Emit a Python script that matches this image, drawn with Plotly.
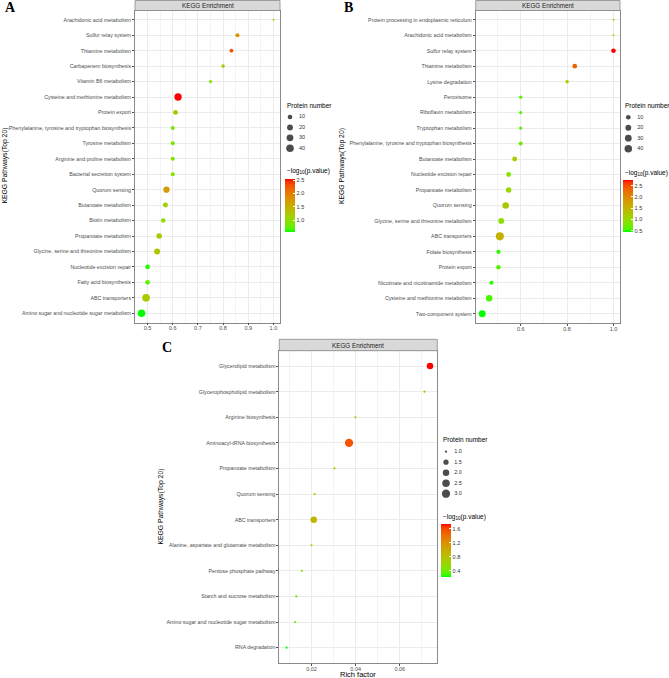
import numpy as np
import plotly.graph_objects as go

W, H = 669, 678

# ---- data -------------------------------------------------------------
A_pathways = [
    "Arachidonic acid metabolism", "Sulfur relay system", "Thiamine metabolism",
    "Carbapenem biosynthesis", "Vitamin B6 metabolism",
    "Cysteine and methionine metabolism", "Protein export",
    "Phenylalanine, tyrosine and tryptophan biosynthesis", "Tyrosine metabolism",
    "Arginine and proline metabolism", "Bacterial secretion system", "Quorum sensing",
    "Butanoate metabolism", "Biotin metabolism", "Propanoate metabolism",
    "Glycine, serine and threonine metabolism", "Nucleotide excision repair",
    "Fatty acid biosynthesis", "ABC transporters",
    "Amino sugar and nucleotide sugar metabolism",
]
A_rich = [1.0, 0.857, 0.833, 0.80, 0.75, 0.621, 0.611, 0.60, 0.60, 0.60,
          0.60, 0.575, 0.571, 0.562, 0.546, 0.538, 0.50, 0.50, 0.494, 0.476]
A_count = [1, 6, 5, 4, 3, 36, 11, 6, 6, 6, 6, 23, 12, 9, 17, 21, 10, 10, 41, 40]
A_logp = [1.1, 1.8, 2.3, 1.2, 0.9, 2.54, 1.3, 0.85, 0.85, 0.85,
          0.9, 1.7, 1.1, 1.0, 1.2, 1.25, 0.62, 0.75, 1.2, 0.56]

B_pathways = [
    "Protein processing in endoplasmic reticulum", "Arachidonic acid metabolism",
    "Sulfur relay system", "Thiamine metabolism", "Lysine degradation", "Peroxisome",
    "Riboflavin metabolism", "Tryptophan metabolism",
    "Phenylalanine, tyrosine and tryptophan biosynthesis", "Butanoate metabolism",
    "Nucleotide excision repair", "Propanoate metabolism", "Quorum sensing",
    "Glycine, serine and threonine metabolism", "ABC transporters",
    "Folate biosynthesis", "Protein export", "Nicotinate and nicotinamide metabolism",
    "Cysteine and methionine metabolism", "Two-component system",
]
B_rich = [1.0, 1.0, 1.0, 0.833, 0.80, 0.60, 0.60, 0.60, 0.60, 0.574,
          0.548, 0.548, 0.535, 0.516, 0.51, 0.504, 0.504, 0.474, 0.464, 0.434]
B_count = [1, 1, 10, 10, 4, 3, 3, 3, 6, 12, 11, 17, 28, 20, 48, 8, 9, 7, 27, 32]
B_logp = [1.0, 1.0, 2.75, 2.35, 1.1, 0.6, 0.6, 0.6, 0.7, 1.15,
          0.85, 1.0, 1.25, 0.9, 1.5, 0.5, 0.6, 0.5, 0.55, 0.44]

C_pathways = [
    "Glycerolipid metabolism", "Glycerophospholipid metabolism",
    "Arginine biosynthesis", "Aminoacyl-tRNA biosynthesis", "Propanoate metabolism",
    "Quorum sensing", "ABC transporters",
    "Alanine, aspartate and glutamate metabolism", "Pentose phosphate pathway",
    "Starch and sucrose metabolism", "Amino sugar and nucleotide sugar metabolism",
    "RNA degradation",
]
C_rich = [0.0737, 0.0712, 0.0399, 0.037, 0.0304, 0.0214, 0.021, 0.020,
          0.0156, 0.0131, 0.0126, 0.0087]
C_count = [2, 1, 1, 3, 1, 1, 2, 1, 1, 1, 1, 1]
C_logp = [1.74, 0.9, 0.8, 1.55, 0.72, 0.6, 0.9, 0.6, 0.5, 0.4, 0.38, 0.22]

A_size_breaks = [10, 20, 30, 40]
B_size_breaks = [10, 20, 30, 40]
C_size_breaks = [1.0, 1.5, 2.0, 2.5, 3.0]


# ---- helpers ----------------------------------------------------------
def px(x):
    return x / W


def py(y):
    return 1 - y / H


def lab_gradient(low, high, n=21):
    """green -> red in CIE Lab, like ggplot's scale_colour_gradient."""
    wp = np.array([0.95047, 1.0, 1.08883])
    M = np.array([[0.4124, 0.3576, 0.1805],
                  [0.2126, 0.7152, 0.0722],
                  [0.0193, 0.1192, 0.9505]])

    def to_lab(hexc):
        c = np.array([int(hexc[i:i + 2], 16) for i in (1, 3, 5)]) / 255
        c = np.where(c <= 0.04045, c / 12.92, ((c + 0.055) / 1.055) ** 2.4)
        t = M @ c / wp
        d = 6 / 29
        f = np.where(t > d ** 3, np.cbrt(t), t / (3 * d * d) + 4 / 29)
        return np.array([116 * f[1] - 16, 500 * (f[0] - f[1]), 200 * (f[1] - f[2])])

    def to_hex(lab):
        fy = (lab[0] + 16) / 116
        f = np.array([fy + lab[1] / 500, fy, fy - lab[2] / 200])
        d = 6 / 29
        t = np.where(f > d, f ** 3, 3 * d * d * (f - 4 / 29)) * wp
        c = np.linalg.solve(M, t)
        c = np.where(c <= 0.0031308, 12.92 * c, 1.055 * np.clip(c, 0, None) ** (1 / 2.4) - 0.055)
        c = np.clip(np.round(c * 255), 0, 255).astype(int)
        return "#%02x%02x%02x" % tuple(c)

    a, b = to_lab(low), to_lab(high)
    return [[i / (n - 1), to_hex(a + (b - a) * i / (n - 1))] for i in range(n)]


CS = lab_gradient("#00FF00", "#FF0000")


def sizes(vals, vmin, d0, k):
    return [d0 + k * np.sqrt(v - vmin) for v in vals]


def note(text, x, y, size, xanchor="center", **kw):
    return dict(text=text, xref="paper", yref="paper", x=px(x), y=py(y),
                xanchor=xanchor, yanchor="middle", showarrow=False,
                font=dict(size=size, **kw.pop("font", {})), **kw)


GRID = "#EBEBEB"
MINOR = "#F3F3F3"
BORDER = "#8A8A8A"
TICKC = "#4D4D4D"
FONT = "Liberation Sans, Arial, sans-serif"

# panel boxes in pixels: left, right, strip top, strip bottom, bottom
panels = {
    "A": dict(l=135, r=280, st=0.5, sb=10.5, b=322.5),
    "B": dict(l=475.7, r=620, st=0.5, sb=10.5, b=323),
    "C": dict(l=279.3, r=437.3, st=339.3, sb=350.7, b=663),
}

fig = go.Figure()
layout = dict(
    width=W, height=H, margin=dict(l=0, r=0, t=0, b=0),
    paper_bgcolor="white", plot_bgcolor="white", showlegend=False,
    font=dict(family=FONT, color="black"),
)
shapes, annotations = [], []

specs = [
    ("A", A_pathways, A_rich, A_count, A_logp, dict(vmin=1, d0=2.0, k=0.9),
     dict(range=[0.45, 1.026], dtick=0.1, tickformat=".1f", minor=0.05)),
    ("B", B_pathways, B_rich, B_count, B_logp, dict(vmin=1, d0=2.0, k=0.88),
     dict(range=[0.406, 1.028], dtick=0.2, tickformat=".1f", minor=0.1)),
    ("C", C_pathways, C_rich, C_count, C_logp, dict(vmin=1, d0=2.2, k=4.3),
     dict(range=[0.0054, 0.077], dtick=0.02, tickformat=".2f", minor=0.01)),
]

for i, (key, names, rich, count, logp, sz, xs) in enumerate(specs, start=1):
    p = panels[key]
    sfx = "" if i == 1 else str(i)
    cax = "coloraxis" + sfx
    fig.add_trace(go.Scatter(
        x=rich, y=names, mode="markers", xaxis="x" + sfx, yaxis="y" + sfx,
        marker=dict(size=sizes(count, **sz), color=logp, coloraxis=cax,
                    line=dict(width=0), opacity=1),
    ))
    layout["xaxis" + sfx] = dict(
        domain=[px(p["l"]), px(p["r"])], anchor="y" + sfx, range=xs["range"],
        dtick=xs["dtick"], tick0=0, tickformat=xs["tickformat"],
        showgrid=True, gridcolor=GRID, gridwidth=0.7, zeroline=False,
        minor=dict(showgrid=True, dtick=xs["minor"], tick0=0, gridcolor=MINOR, gridwidth=0.4),
        showline=True, mirror=True, linecolor=BORDER, linewidth=0.8,
        ticks="outside", ticklen=2, tickcolor=TICKC, tickwidth=0.6,
        ticklabelstandoff=-2, tickfont=dict(size=5.5, color=TICKC),
    )
    layout["yaxis" + sfx] = dict(
        domain=[py(p["b"]), py(p["sb"])], anchor="x" + sfx, type="category",
        categoryorder="array", categoryarray=names[::-1],
        range=[-0.6, len(names) - 0.4],
        showgrid=True, gridcolor=GRID, gridwidth=0.7, zeroline=False,
        showline=True, mirror=True, linecolor=BORDER, linewidth=0.8,
        ticks="outside", ticklen=2, tickcolor=TICKC, tickwidth=0.6,
        tickfont=dict(size=5.3, color=TICKC),
    )
    # facet strip
    shapes.append(dict(type="rect", xref="paper", yref="paper",
                       x0=px(p["l"]), x1=px(p["r"]), y0=py(p["sb"]), y1=py(p["st"]),
                       fillcolor="#D9D9D9", line=dict(color=BORDER, width=0.8)))
    annotations.append(note("KEGG Enrichment", (p["l"] + p["r"]) / 2,
                            (p["st"] + p["sb"]) / 2, 6.3, font=dict(color="#1A1A1A")))

# panel letters
for letter, x, y in [("A", 2.5, 8), ("B", 342, 8), ("C", 159.5, 347)]:
    annotations.append(note("<b>%s</b>" % letter, x, y, 14, xanchor="left",
                            font=dict(family="Liberation Serif, Times New Roman, serif")))

# y-axis titles
for x, y in [(4.5, 166), (342, 166), (160.5, 507)]:
    annotations.append(note("KEGG Pathways(Top 20)", x, y, 6.8, textangle=-90))
annotations.append(note("Rich factor", 358.3, 674.8, 7.5))

# size legends (drawn on small hidden axes) and colour bars
legends = [
    (A_size_breaks, specs[0][5], dict(x=285, y_title=105, y0=117, y1=148.3,
                                      cb_top=179, cb_len=53, dtick=0.5, lab="%d")),
    (B_size_breaks, specs[1][5], dict(x=623.3, y_title=106, y0=117.3, y1=148.7,
                                      cb_top=180, cb_len=52.3, dtick=0.5, lab="%d")),
    (C_size_breaks, specs[2][5], dict(x=441, y_title=439.7, y0=451.7, y1=493.7,
                                      cb_top=524, cb_len=52.7, dtick=0.4, lab="%.1f")),
]
for j, (breaks, sz, L) in enumerate(legends, start=4):
    sfx = str(j)
    pad = 8
    s = (L["y1"] - L["y0"]) / (breaks[-1] - breaks[0])
    fig.add_trace(go.Scatter(
        x=[5] * len(breaks), y=breaks, mode="markers", xaxis="x" + sfx, yaxis="y" + sfx,
        marker=dict(size=sizes(breaks, **sz), color="black", line=dict(width=0)),
    ))
    fig.add_trace(go.Scatter(
        x=[17] * len(breaks), y=breaks, mode="text", xaxis="x" + sfx, yaxis="y" + sfx,
        text=[L["lab"] % b for b in breaks], textposition="middle center",
        textfont=dict(size=5.5, color="#333333"),
    ))
    layout["xaxis" + sfx] = dict(domain=[px(L["x"]), px(L["x"] + 27)], range=[0, 27],
                                 anchor="y" + sfx, visible=False)
    layout["yaxis" + sfx] = dict(domain=[py(L["y1"] + pad), py(L["y0"] - pad)],
                                 range=[breaks[-1] + pad / s, breaks[0] - pad / s],
                                 anchor="x" + sfx, visible=False)
    annotations.append(note("Protein number", L["x"], L["y_title"], 6.5, xanchor="left"))
    annotations.append(note("\u2212log<sub>10</sub>(p.value)", L["x"], L["cb_top"] - 7.5,
                            6.5, xanchor="left"))
    cax = "coloraxis" + ("" if j == 4 else str(j - 3))
    layout[cax] = dict(
        colorscale=CS,
        colorbar=dict(x=px(L["x"]), xanchor="left", y=py(L["cb_top"]), yanchor="top",
                      len=L["cb_len"], lenmode="pixels", thickness=10, xpad=0, ypad=0,
                      outlinewidth=0, tick0=0, dtick=L["dtick"], tickformat=".1f",
                      ticks="inside", ticklen=2, tickcolor="white",
                      tickfont=dict(size=5.5, color="#333333")),
    )

layout["shapes"] = shapes
layout["annotations"] = annotations
fig.update_layout(**layout)

fig.write_html("out.html", config={"displayModeBar": False},
               post_script="document.body.style.margin='0';")
